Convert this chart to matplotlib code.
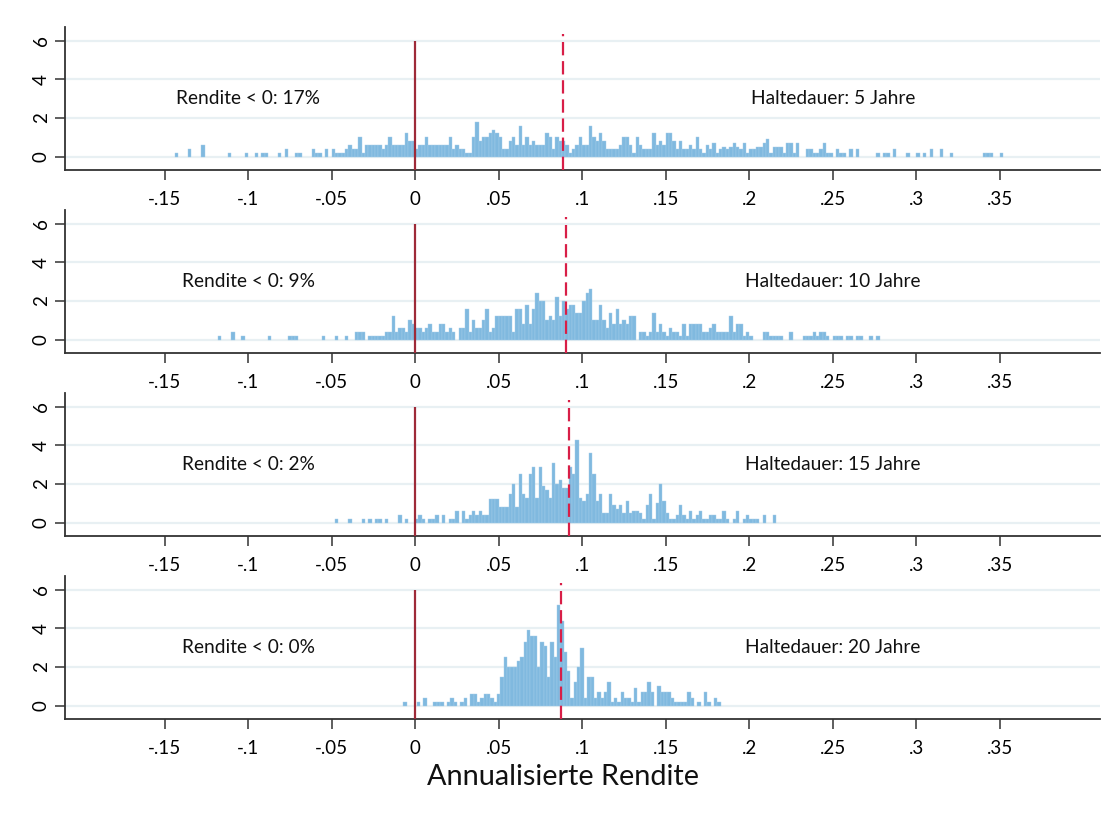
import numpy as np
import matplotlib.pyplot as plt

plt.rcParams['font.family'] = ['Lato', 'DejaVu Sans']

# bin width of the histograms (annualised return)
bw = 0.002

# percent of observations per bin, 5 year holding period
start_5 = -0.152
pct_5 = [
    0, 0, 0, 0, 0.2, 0, 0, 0, 0.4, 0,
    0, 0, 0.6, 0, 0, 0, 0, 0, 0, 0,
    0.2, 0, 0, 0, 0, 0.2, 0, 0, 0.2, 0,
    0.2, 0.2, 0, 0, 0, 0.2, 0, 0.4, 0, 0,
    0.2, 0.2, 0, 0, 0, 0.4, 0.2, 0.2, 0, 0.4,
    0, 0.4, 0.2, 0.2, 0.2, 0.4, 0.6, 0.4, 0.4, 1.0,
    0.2, 0.6, 0.6, 0.6, 0.6, 0.6, 0.4, 0.6, 1.0, 0.6,
    0.6, 0.6, 0.6, 1.2, 0.8, 0.8, 0.4, 0.6,
    0.6, 1.0, 0.6, 0.6, 0.6, 0.6, 0.6, 0.6, 1.0, 0.4,
    0.6, 0.4, 0.4, 0.2, 0.2, 1.0, 1.8, 0.8, 1.0, 1.0,
    1.2, 1.4, 1.2, 1.0, 0.4, 0.4, 0.8, 1.0, 0.6, 1.6,
    0.6, 1.0, 0.6, 0.8, 0.6, 0.6, 0.6, 1.2, 1.0, 0.4,
    1.0, 0.8, 0.8, 0.6, 0.2, 0.4, 0.6, 1.0, 0.6, 0.6,
    1.6, 1.0, 0.8, 1.2, 0.8, 0.4, 0.4, 0.4, 0.4, 0.6,
    1.0, 1.0, 0.6, 0.2, 1.0, 0.6, 0.4, 0.4, 0.4, 1.2,
    0.6, 0.8, 0.6, 1.2, 1.2, 0.8, 0.4, 0.8, 0.4, 0.4,
    0.6, 0.4, 1.0, 0.4, 0.2, 0.6,
    0.4, 0.7, 0.2, 0.4, 0.5, 0.4, 0.5, 0.7, 0.5, 0.4,
    0.7, 0.2, 0.4, 0.4, 0.5, 0.5, 0.7, 0.9, 0.2, 0.5,
    0.5, 0.5, 0.2, 0.7, 0.7, 0.2, 0.7, 0, 0, 0.4,
    0.4, 0.2, 0.2, 0.4, 0.7, 0.2, 0.2, 0, 0.4, 0.2,
    0.2, 0, 0.4, 0, 0.4, 0, 0, 0, 0, 0,
    0.2, 0, 0.2, 0.2, 0, 0.4, 0, 0, 0, 0.2,
    0, 0, 0.2, 0, 0.2, 0, 0.4, 0, 0, 0.4,
    0, 0, 0.2, 0, 0, 0, 0, 0, 0, 0,
    0, 0, 0.2, 0.2, 0.2, 0, 0, 0.2,
]

# 10 year holding period
start_10 = -0.128
pct_10 = [
    0, 0, 0, 0, 0, 0.2, 0, 0, 0, 0.4,
    0, 0, 0.2, 0, 0, 0, 0, 0, 0, 0,
    0.2, 0, 0, 0, 0, 0, 0.2, 0.2, 0.2, 0,
    0, 0, 0, 0, 0, 0, 0.2, 0, 0, 0,
    0.2, 0, 0, 0.2, 0, 0, 0.4, 0.4, 0.4, 0,
    0.2, 0.2, 0.2, 0.2, 0.2, 0.4, 0.4, 1.2, 0.4, 0.6,
    0.6, 0.4, 1.0, 0.8, 0.6, 0.6, 0.4, 0.6, 0.8, 0.4,
    0.4, 0.8,
    0.8, 0.4, 0.6, 0.4, 0, 0.6, 0.6, 1.6, 0.4, 1.0,
    0.6, 0.6, 1.0, 1.6, 0.4, 0.6, 1.2, 1.2, 1.2, 1.2,
    1.2, 0.4, 1.6, 1.6, 0.8, 1.8, 0.8, 1.6, 2.4, 2.0,
    2.0, 1.0, 1.2, 1.0, 2.2, 1.2, 2.0, 1.6, 1.8, 1.8,
    1.4, 1.4, 2.0, 2.4, 2.6, 1.0, 1.0, 1.8, 1.0, 0.6,
    1.4, 0.8, 1.6, 0.8, 1.0, 0.8, 1.2, 1.2, 0, 0.4,
    0.4, 0.2, 0.4, 1.4, 0.4, 0.8, 0.4, 0.2, 0.6, 0.4,
    0.4, 0.2, 0.8, 0.2, 0.8, 0.8, 0.8, 0.8,
    0.4, 0.4, 0.6, 0.8, 0.4, 0.4, 0.4, 0.4, 1.2, 0.4,
    0.8, 0.8, 0.2, 0.4, 0.2, 0, 0, 0, 0.4, 0.4,
    0.2, 0.2, 0.2, 0.2, 0, 0, 0.4, 0, 0, 0,
    0.2, 0.2, 0.2, 0.4, 0.2, 0.4, 0.4, 0.2, 0, 0.2,
    0.2, 0.2, 0, 0.2, 0.2, 0, 0.2, 0.2, 0, 0,
    0.2, 0, 0.2,
]

# 15 year holding period
start_15 = -0.056
pct_15 = [
    0, 0, 0, 0, 0.2, 0, 0, 0, 0.2, 0,
    0, 0, 0.2, 0, 0.2, 0, 0.2, 0.2, 0, 0.2,
    0, 0, 0, 0.4, 0, 0.2, 0, 0, 0.2, 0.4,
    0.2, 0, 0.2, 0.2, 0.4, 0, 0.4, 0, 0.2, 0.2,
    0.6, 0, 0.6, 0.2, 0.4, 0.6, 0.4, 0.6, 0.4, 0.4,
    1.2, 1.2, 1.2, 0.8,
    0.8, 0.8, 1.5, 2.0, 0.8, 2.5, 1.5, 1.3, 2.5, 2.9,
    1.3, 2.9, 1.9, 1.7, 1.3, 3.1, 2.0, 2.2, 1.8, 1.8,
    2.9, 2.5, 4.3, 1.3, 1.1, 1.5, 3.6, 2.5, 1.1, 1.5,
    0.5, 0.5, 1.5, 0.9, 0.7, 0.9, 0.5, 1.1, 0.5, 0.6,
    0.6, 0.5, 0.2, 0.9, 1.5, 0.2, 1.0, 2.0, 1.1, 0.5,
    0.2, 0.2, 0.4, 0.9, 0.4, 0.2, 0.6, 0.2, 0.4, 0.6,
    0.2, 0.2, 0.4, 0.4, 0.2, 0.2, 0.6, 0.2, 0, 0.2,
    0.6, 0, 0.2, 0.4, 0.2, 0.2, 0.2, 0, 0.4, 0,
    0, 0.4,
]

# 20 year holding period
start_20 = -0.015
pct_20 = [
    0, 0, 0, 0, 0.2, 0, 0, 0, 0.2, 0,
    0.4, 0, 0, 0.2, 0.2, 0.2, 0, 0.2, 0.4, 0.2,
    0, 0.2, 0.4, 0, 0.6, 0.6, 0.2, 0.4, 0.6, 0.6,
    0.4, 0.2, 0.6, 1.5, 2.5, 2.0, 2.0, 2.0, 2.3, 2.5,
    3.3, 3.9, 3.6, 3.6, 2.0, 3.3, 3.1, 1.5, 3.3, 2.5,
    5.2, 4.4, 2.8,
    1.8, 0.4, 1.2, 2.0, 3.0, 0.4, 1.5, 1.5, 0.4, 0.7,
    0.4, 0.7, 1.2, 0.2, 0.4, 0.2, 0.7, 0.4, 0.4, 0.2,
    0.9, 0.2, 0.7, 0.7, 1.2, 0.7, 0, 1.0, 0.7, 0.7,
    0.7, 0.4, 0.2, 0.2, 0.2, 0.2, 0.7, 0.4, 0, 0.2,
    0, 0.7, 0.2, 0, 0.4, 0.2,
]

starts = [start_5, start_10, start_15, start_20]
series = [pct_5, pct_10, pct_15, pct_20]
means = [0.0884, 0.0902, 0.0924, 0.0872]
share_neg = ['17%', '9%', '2%', '0%']
years = [5, 10, 15, 20]

xticks = [-0.15, -0.1, -0.05, 0, 0.05, 0.1, 0.15, 0.2, 0.25, 0.3, 0.35]
xticklabels = ['-.15', '-.1', '-.05', '0', '.05', '.1', '.15', '.2', '.25', '.3', '.35']

bar_color = '#80b9df'
grid_color = '#e8f0f3'

fig = plt.figure(figsize=(11.09, 8.17), dpi=100)
W, H = 1109, 817

for i in range(4):
    top = 27 + 183 * i
    bottom = 170 + 183 * i
    ax = fig.add_axes([65 / W, 1 - bottom / H, 1035 / W, (bottom - top) / H])

    h = np.array(series[i])
    edges = starts[i] + bw * np.arange(len(h))
    keep = h > 0
    ax.bar(edges[keep], h[keep], width=bw, align='edge', color=bar_color,
           edgecolor='#a6cee9', linewidth=0.3, zorder=2)

    for y in [0, 2, 4, 6]:
        ax.axhline(y, color=grid_color, lw=1.6, zorder=1)

    ax.vlines(0, -0.69, 6.0, color='#9e2a38', lw=1.6, zorder=3)
    ax.vlines(means[i], -0.69, 6.35, color='#d81e47', lw=1.6,
              linestyles=(0, (6, 2.6)), zorder=3)

    ax.text(-0.1, 3, 'Rendite < 0: ' + share_neg[i], ha='center', va='center',
            fontsize=13.8, color='#111111')
    ax.text(0.25, 3, 'Haltedauer: %d Jahre' % years[i], ha='center', va='center',
            fontsize=13.8, color='#111111')

    ax.set_xlim(-0.2096, 0.41)
    ax.set_ylim(-0.69, 6.71)
    ax.set_xticks(xticks)
    ax.set_xticklabels(xticklabels, fontsize=13.5)
    ax.set_yticks([0, 2, 4, 6])
    ax.set_yticklabels(['0', '2', '4', '6'], rotation=90, va='center', fontsize=13.5)
    ax.tick_params(direction='out', length=7, width=1.1, color='#333333', pad=8)
    ax.tick_params(axis='y', pad=4)

    for side in ['top', 'right']:
        ax.spines[side].set_visible(False)
    for side in ['left', 'bottom']:
        ax.spines[side].set_color('#333333')
        ax.spines[side].set_linewidth(1.3)

fig.text(563 / W, 1 - 777 / H, 'Annualisierte Rendite', ha='center', va='center',
         fontsize=20.8, color='#111111')

fig.savefig('out.png', dpi=100, facecolor='white')
